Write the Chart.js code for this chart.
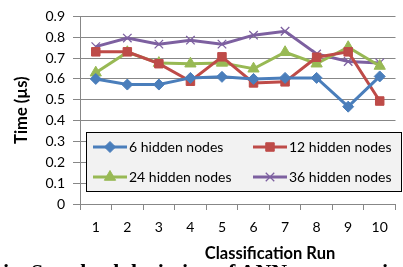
<!DOCTYPE html>
<html><head><meta charset="utf-8">
<script src="https://cdn.jsdelivr.net/npm/chart.js@4"></script>
<style>
html,body{margin:0;padding:0;background:#fff;overflow:hidden}
#wrap{position:relative;width:403px;height:267px;overflow:hidden}
#cap{position:absolute;left:3px;top:261px;white-space:nowrap;font:bold 22px/22px "Liberation Serif",serif;color:#000}
</style></head><body>
<div id="wrap"><canvas id="c" width="403" height="267"></canvas>
<div id="cap">ig. Standard deviation of ANN computation</div></div>
<script>
const categories = ['1','2','3','4','5','6','7','8','9','10'];
const nodes6  = [0.600,0.573,0.573,0.605,0.610,0.600,0.605,0.605,0.467,0.612];
const nodes12 = [0.730,0.730,0.673,0.589,0.706,0.581,0.586,0.704,0.730,0.494];
const nodes24 = [0.630,0.728,0.676,0.673,0.677,0.649,0.728,0.673,0.752,0.662];
const nodes36 = [0.755,0.796,0.767,0.786,0.767,0.810,0.829,0.720,0.684,0.677];
const seriesNames = ['6 hidden nodes','12 hidden nodes','24 hidden nodes','36 hidden nodes'];
const yTicks = [0,0.1,0.2,0.3,0.4,0.5,0.6,0.7,0.8,0.9];
const xTitle = 'Classification Run';
const yTitle = 'Time (µs)';

const colors = ['#4A7EBB','#BE4B48','#98B954','#7D60A0'];
const styles = ['rectRot','rect','triangle','crossRot'];
const radii = [5.5,6,6.5,6];
const FONT = 'Lato, "Open Sans", sans-serif';

const datasets = [nodes6,nodes12,nodes24,nodes36].map((d,i)=>({
  label: seriesNames[i], data: d,
  borderColor: colors[i], backgroundColor: colors[i],
  borderWidth: 3, pointStyle: styles[i], pointRadius: radii[i],
  pointBorderWidth: i===3?1.3:1, pointBorderColor: colors[i],
  tension: 0, fill:false
}));

const legendPlugin = {
  id:'customLegend',
  afterDraw(chart){
    const ctx=chart.ctx;
    ctx.save();
    const bx=86.5, by=132.5, bw=315, bh=59;
    ctx.fillStyle='#F2F2F2'; ctx.fillRect(bx,by,bw,bh);
    ctx.strokeStyle='#000'; ctx.lineWidth=1; ctx.strokeRect(bx,by,bw,bh);
    const pos=[[93,147],[253,147],[93,177],[253,177]];
    for(let k=0;k<4;k++){
      const [x,y]=pos[k];
      ctx.strokeStyle=colors[k]; ctx.lineWidth=3;
      ctx.beginPath(); ctx.moveTo(x,y); ctx.lineTo(x+34,y); ctx.stroke();
      ctx.fillStyle=colors[k]; ctx.strokeStyle=colors[k]; ctx.lineWidth=k===3?1.3:1;
      Chart.helpers.drawPoint(ctx,{pointStyle:styles[k],radius:radii[k],rotation:0,borderWidth:k===3?1.3:1},x+17,y);
      ctx.fillStyle='#000'; ctx.font='14px '+FONT; ctx.textBaseline='middle'; ctx.textAlign='left';
      ctx.fillText(seriesNames[k], x+36, y+0.5);
    }
    ctx.fillStyle='#000'; ctx.font='bold 16.5px '+FONT; ctx.textAlign='center'; ctx.textBaseline='middle';
    ctx.fillText(xTitle, 270, 254);
    ctx.restore();
  }
};

new Chart(document.getElementById('c'),{
  type:'line',
  data:{labels:categories,datasets},
  plugins:[legendPlugin],
  options:{
    responsive:false, animation:false,
    layout:{padding:{top:13,right:6,left:0,bottom:0}},
    plugins:{legend:{display:false},tooltip:{enabled:false}},
    scales:{
      x:{
        offset:true,
        grid:{offset:true,drawOnChartArea:false,color:'#878787',tickLength:6},
        border:{color:'#878787'},
        ticks:{color:'#000',font:{family:FONT,size:14},padding:9,maxRotation:0},
        afterFit(s){s.height=63;}
      },
      y:{
        min:0,max:0.9,
        afterBuildTicks(s){s.ticks=yTicks.map(v=>({value:v}));},
        grid:{color:'#878787',tickLength:7},
        border:{color:'#878787'},
        ticks:{color:'#000',font:{family:FONT,size:14},padding:8,callback:v=>v===0?'0':v.toFixed(1)},
        title:{display:true,text:yTitle,color:'#000',font:{family:FONT,size:16.5,weight:'bold'},padding:{top:12,bottom:0}},
        afterFit(s){s.width=80;}
      }
    }
  }
});
</script></body></html>
